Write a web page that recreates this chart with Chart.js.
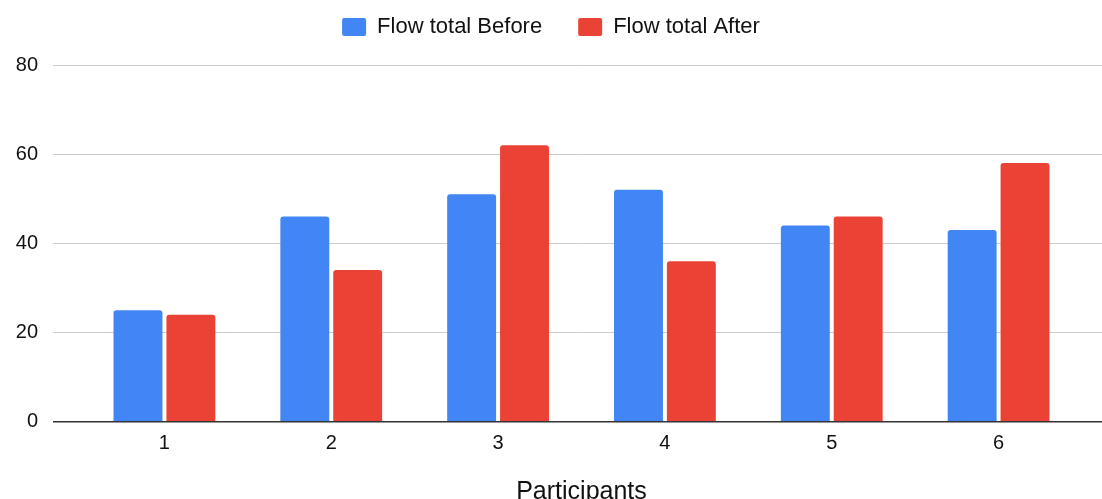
<!DOCTYPE html>
<html>
<head>
<meta charset="utf-8">
<script src="https://cdn.jsdelivr.net/npm/chart.js@4.4.0/dist/chart.umd.min.js"></script>
<style>
  html, body { margin: 0; padding: 0; background: #ffffff; }
  #wrap { width: 1102px; height: 499px; }
</style>
</head>
<body>
<div id="wrap"><canvas id="chart" width="1102" height="499"></canvas></div>
<script>
// Flow totals per participant, before and after
const participants = ['1', '2', '3', '4', '5', '6'];
const flowBefore = [25, 46, 51, 52, 44, 43];
const flowAfter = [24, 34, 62, 36, 46, 58];
const yTickValues = [0, 20, 40, 60, 80];

const FONT = "'Liberation Sans', Arial, Helvetica, sans-serif";
const TEXT = '#111111';
const BLUE = '#4285F4';
const RED = '#EA4335';

// Gridlines run past the plot on both sides: the tick marks of the
// left and right y axes are drawn in the grid colour to extend them.
const gridColor = ctx => (ctx.tick && ctx.tick.value === 0) ? '#333333' : '#cccccc';
const gridWidth = ctx => (ctx.tick && ctx.tick.value === 0) ? 1.5 : 1;
const fixedTicks = scale => { scale.ticks = yTickValues.map(v => ({ value: v })); };

// Keep the legend band a fixed height
const legendBand = {
  id: 'legendBand',
  beforeInit(chart) {
    const fit = chart.legend.fit;
    chart.legend.fit = function () {
      fit.call(this);
      this.height = 85;
    };
  }
};

new Chart(document.getElementById('chart'), {
  type: 'bar',
  data: {
    labels: participants,
    datasets: [
      {
        label: 'Flow total Before',
        data: flowBefore,
        backgroundColor: BLUE,
        borderRadius: 3,
        categoryPercentage: 0.634,
        barPercentage: 0.925
      },
      {
        label: 'Flow total After',
        data: flowAfter,
        backgroundColor: RED,
        borderRadius: 3,
        categoryPercentage: 0.634,
        barPercentage: 0.925
      }
    ]
  },
  plugins: [legendBand],
  options: {
    responsive: false,
    animation: false,
    devicePixelRatio: 1,
    layout: { padding: { top: -20, left: 0, right: 0, bottom: 0 } },
    plugins: {
      legend: {
        position: 'top',
        align: 'center',
        labels: {
          boxWidth: 24,
          boxHeight: 18,
          padding: 36,
          color: TEXT,
          useBorderRadius: true,
          borderRadius: 2,
          font: { family: FONT, size: 22 }
        }
      },
      tooltip: { enabled: false }
    },
    scales: {
      x: {
        grid: { display: false },
        border: { display: false },
        ticks: {
          color: TEXT,
          padding: 2,
          font: { family: FONT, size: 20 }
        },
        title: {
          display: true,
          text: 'Participants',
          color: TEXT,
          padding: { top: 0, bottom: -6 },
          font: { family: FONT, size: 25, lineHeight: 1 }
        },
        afterFit(scale) { scale.height = 77.3; }
      },
      y: {
        position: 'left',
        min: 0,
        max: 80,
        border: { display: false },
        grid: {
          color: gridColor,
          lineWidth: gridWidth,
          drawTicks: true,
          tickLength: 28
        },
        ticks: {
          color: TEXT,
          padding: 15,
          font: { family: FONT, size: 20 }
        },
        afterBuildTicks: fixedTicks,
        afterFit(scale) { scale.width = 81; }
      },
      yRight: {
        position: 'right',
        min: 0,
        max: 80,
        border: { display: false },
        grid: {
          color: gridColor,
          lineWidth: gridWidth,
          drawOnChartArea: false,
          drawTicks: true,
          tickLength: 20
        },
        ticks: { display: false },
        afterBuildTicks: fixedTicks,
        afterFit(scale) { scale.width = 20; }
      }
    }
  }
});
</script>
</body>
</html>
